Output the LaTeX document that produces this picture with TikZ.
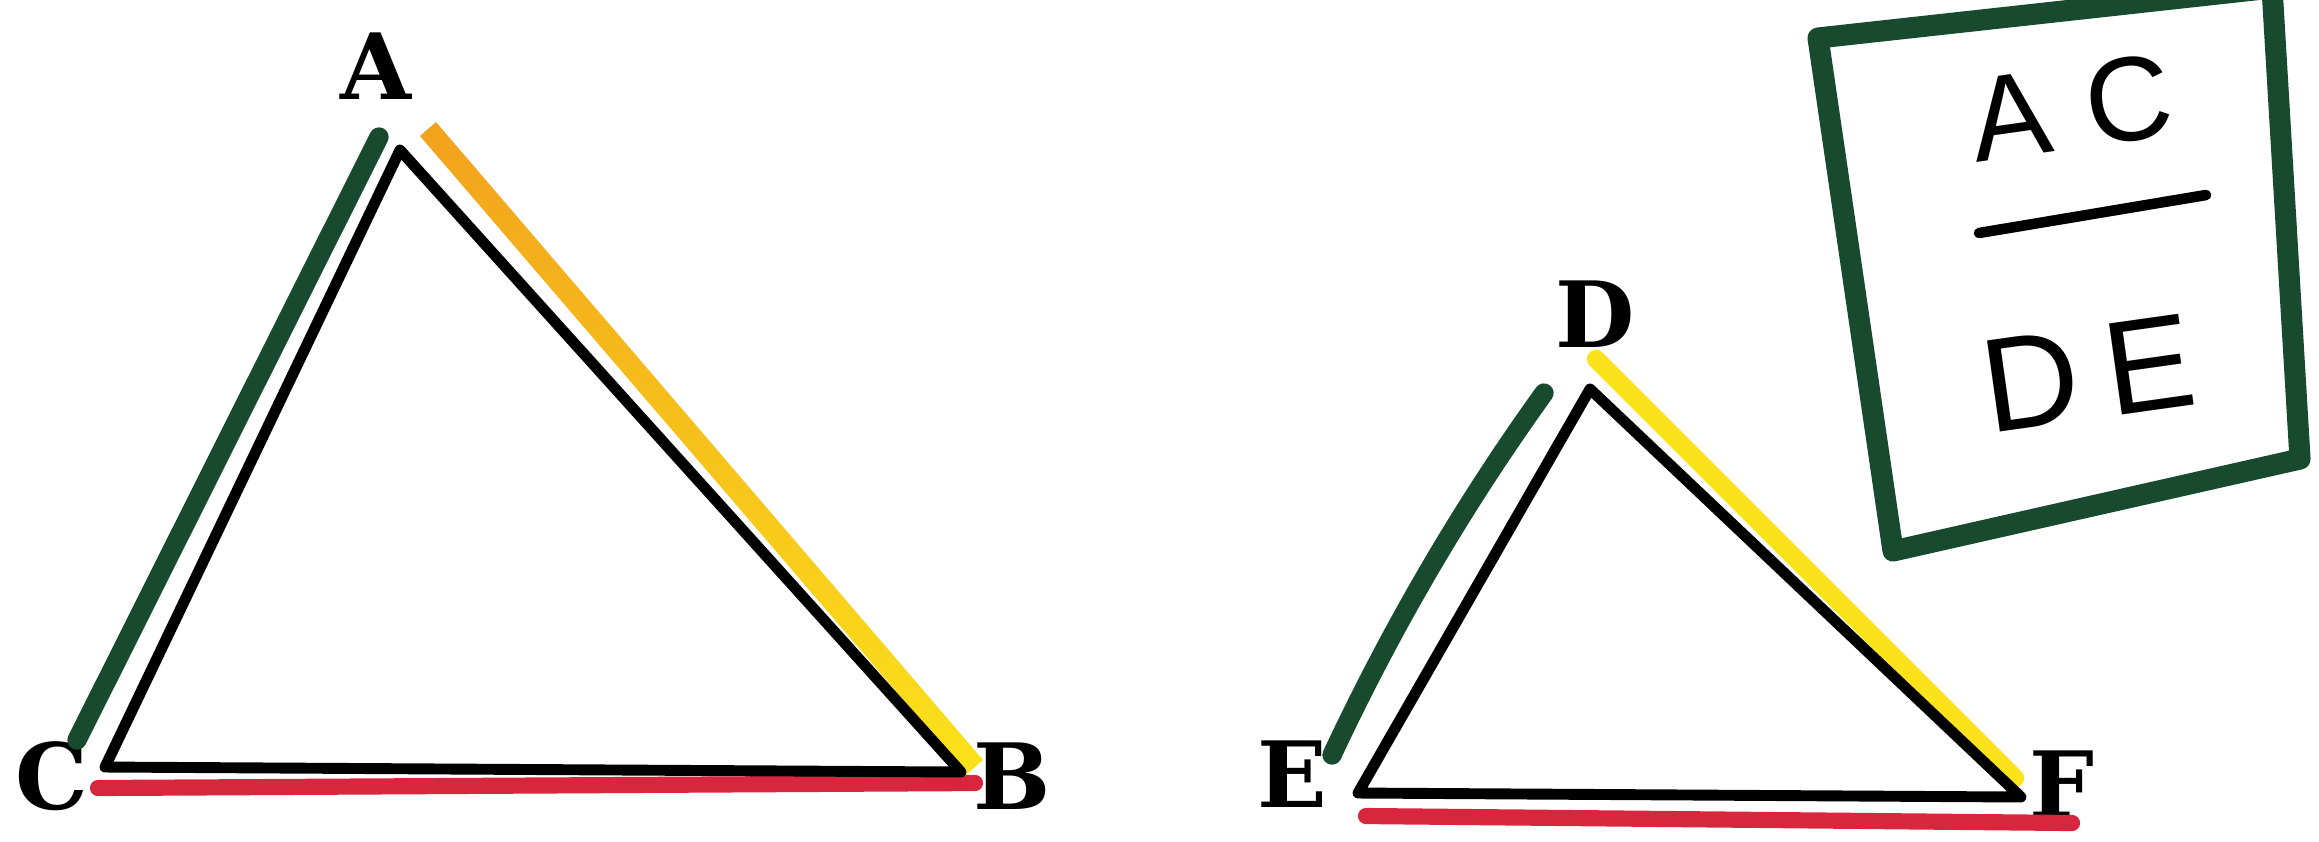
\documentclass[tikz,border=0pt]{standalone}
\usepackage{fontspec}
\newfontfamily\handfont{Liberation Sans}
\newfontfamily\labelfont{DejaVu Serif}
\definecolor{markgreen}{HTML}{174A2E}
\definecolor{markred}{HTML}{D9263F}
\definecolor{markorange}{HTML}{F2A21C}
\definecolor{markyellow}{HTML}{FBE21A}
\tikzset{
  side/.style={draw=black,line width=3.1pt,line cap=round,line join=round},
  greenmark/.style={draw=markgreen,line width=5.5pt,line cap=round},
  redmark/.style={draw=markred,line width=4.6pt,line cap=round},
  yellowmark/.style={draw=markyellow,line width=5.2pt,line cap=round},
  vlabel/.style={font=\labelfont\fontsize{26}{26}\selectfont\bfseries,inner sep=0pt},
  boxtext/.style={font=\handfont\fontsize{34}{34}\selectfont,inner sep=0pt,rotate=8}
}
\begin{document}
\begin{tikzpicture}[x=0.01cm,y=-0.01cm]
  \useasboundingbox (0,0) rectangle (2319,841);

  % vertices
  \coordinate (A) at (400,150);
  \coordinate (B) at (961,772);
  \coordinate (C) at (105,767);
  \coordinate (D) at (1590,389);
  \coordinate (E) at (1358,793);
  \coordinate (F) at (2021,797);

  % labels
  \node[vlabel] (la) at (376,66) {A};
  \node[vlabel] (lb) at (1012,776) {B};
  \node[vlabel] (lc) at (52,776) {C};
  \node[vlabel] (ld) at (1595,314) {D};
  \node[vlabel] (le) at (1292,774) {E};
  \node[vlabel] (lf) at (2062,784) {F};

  % coloured marks, first triangle
  \coordinate (g1) at (379,137);
  \coordinate (g2) at (77,740);
  \coordinate (r1) at (98,788);
  \coordinate (r2) at (975,783);
  \draw[greenmark] (g1) -- (g2);
  \draw[redmark] (r1) -- (r2);
  \shade[top color=markorange,bottom color=markyellow]
    (420,136) -- (436,122) -- (983,760) -- (967,774) -- cycle;

  % coloured marks, second triangle
  \coordinate (h1) at (1544,393);
  \coordinate (h2) at (1332,755);
  \coordinate (y1) at (1596,359);
  \coordinate (y2) at (2015,778);
  \coordinate (s1) at (1366,816);
  \coordinate (s2) at (2072,823);
  \draw[greenmark] (h1) .. controls (1462,507) and (1392,627) .. (h2);
  \draw[yellowmark] (y1) -- (y2);
  \draw[redmark] (s1) -- (s2);

  % triangles
  \draw[side] (A) -- (B) -- (C) -- cycle;
  \draw[side] (D) -- (F) -- (E) -- cycle;

  % ratio box
  \coordinate (k1) at (1818,38);
  \coordinate (k2) at (2272,-12);
  \coordinate (k3) at (2300,459);
  \coordinate (k4) at (1893,551);
  \draw[draw=markgreen,line width=6pt,line join=round] (k1) -- (k2) -- (k3) -- (k4) -- cycle;
  \node[boxtext] (ac) at (2071,108) {A\hspace{0.3em}C};
  \node[boxtext,font=\handfont\fontsize{38}{38}\selectfont] (de) at (2088,373) {D\hspace{0.2em}E};
  \coordinate (f1) at (1979,233);
  \coordinate (f2) at (2206,195);
  \draw[line width=3pt,line cap=round] (f1) -- (f2);
\end{tikzpicture}
\end{document}
